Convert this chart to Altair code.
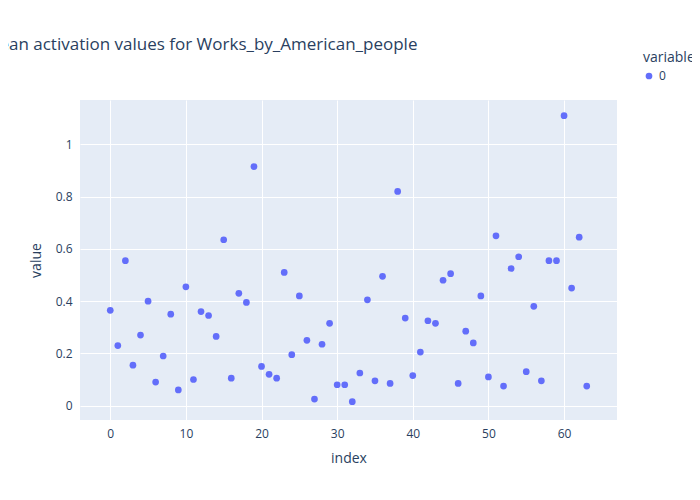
import pandas as pd
import altair as alt

values = [0.365, 0.23, 0.555, 0.155, 0.27, 0.40, 0.09, 0.19, 0.35, 0.06,
          0.455, 0.10, 0.36, 0.345, 0.265, 0.635, 0.105, 0.43, 0.395, 0.915,
          0.15, 0.12, 0.105, 0.51, 0.195, 0.42, 0.25, 0.025, 0.235, 0.315,
          0.08, 0.08, 0.015, 0.125, 0.405, 0.095, 0.495, 0.085, 0.82, 0.335,
          0.115, 0.205, 0.325, 0.315, 0.48, 0.505, 0.085, 0.285, 0.24, 0.42,
          0.11, 0.65, 0.075, 0.525, 0.57, 0.13, 0.38, 0.095, 0.555, 0.555,
          1.11, 0.45, 0.645, 0.075]

df = pd.DataFrame({'index': list(range(len(values))), 'value': values, 'variable': '0'})

axis_style = dict(domain=False, ticks=False, gridColor='white', gridWidth=1,
                  labelColor='#2a3f5f', titleColor='#2a3f5f', labelFont='Open Sans',
                  titleFont='Open Sans', labelFontSize=12, titleFontSize=14,
                  titleFontWeight='normal')

chart = alt.Chart(df).mark_circle(size=45, opacity=1).encode(
    x=alt.X('index:Q', scale=alt.Scale(domain=[-4, 67], nice=False),
            axis=alt.Axis(values=[0, 10, 20, 30, 40, 50, 60], labelPadding=8, titlePadding=12, **axis_style)),
    y=alt.Y('value:Q', scale=alt.Scale(domain=[-0.055, 1.17], nice=False, zero=False),
            axis=alt.Axis(values=[0, 0.2, 0.4, 0.6, 0.8, 1], labelPadding=8, titlePadding=12,
                          labelExpr="datum.value == 0 ? '0' : datum.value == 1 ? '1' : format(datum.value, '.1f')",
                          **axis_style)),
    color=alt.Color('variable:N', scale=alt.Scale(range=['#636efa']),
                    legend=alt.Legend(title='variable', orient='none', legendX=563, legendY=-49,
                                      titleFont='Open Sans', labelFont='Open Sans',
                                      titleFontSize=14, labelFontSize=12, titleFontWeight='normal',
                                      titleColor='#2a3f5f', labelColor='#2a3f5f', symbolSize=45,
                                      symbolOpacity=1))
).properties(
    width=537, height=320,
    title=alt.Title('Mean activation values for Works_by_American_people', anchor='start',
                    dx=-45, offset=-3, font='Open Sans', fontSize=17, fontWeight='normal',
                    color='#2a3f5f'),
    autosize=alt.AutoSizeParams(type='none'),
    padding={'left': 72, 'top': 92, 'right': 75, 'bottom': 72}
).configure_view(fill='#e5ecf6', stroke=None)

chart.save("out.html", embed_options={"renderer": "svg", "actions": False})
